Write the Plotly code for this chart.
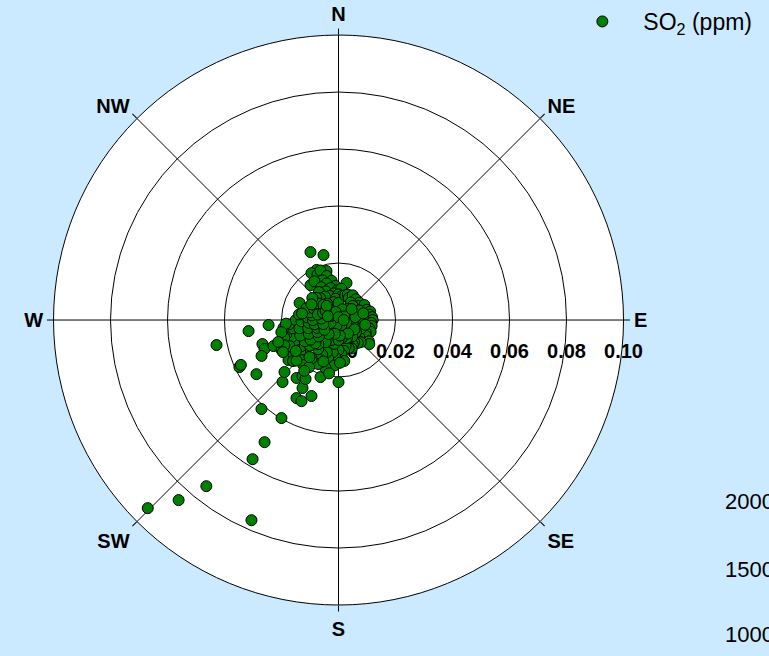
import plotly.graph_objects as go

# Wind direction (degrees, clockwise from North) and SO2 concentration (ppm)
wind_direction_deg = [
    # outlying points
    225.4, 221.6, 218.5, 203.5, 211.7, 211.2, 220.9, 210.2, 258.4, 244.6,
    245.3, 263.0, 265.9, 236.6, 208.3, 204.5, 199.6, 207.9, 180.0, 222.1,
    226.1, 231.3, 215.9, 212.7, 209.2, 197.5, 293.6, 337.6, 347.0, 336.3,
    346.2, 12.2, 321.3, 252.5, 248.6, 245.0, 248.2, 242.2,
    # northern lobe
    330, 335, 340, 345, 338, 328, 350, 342, 332, 355,
    346, 336, 325, 358, 350, 340, 330, 320, 315, 5,
    0, 8, 352, 345, 325, 0, 15, 20, 25,
    # east / core
    30, 40, 50, 55, 60, 70, 75, 80, 85, 90,
    95, 100, 105, 110, 115, 120, 125, 128, 130, 135,
    140, 145, 150, 155, 160, 165, 170, 35, 45, 65,
    85, 95, 110, 125, 140, 155, 170, 40, 70, 100,
    130, 160, 20, 60, 110, 150, 200, 250, 300, 340,
    0, 90, 80, 50, 120, 145, 100, 75,
    # south
    175, 180, 185, 190, 195, 200, 205, 210, 215, 190,
    200, 210, 180, 185, 195, 205, 172, 178, 220, 215,
    200, 190, 175, 195, 215,
    # south-west lobe
    225, 230, 235, 240, 245, 250, 255, 260, 265, 270,
    228, 238, 248, 258, 268, 222, 232, 242, 252, 262,
    225, 235, 245, 255, 265, 275, 230, 240, 250, 260,
    270, 280, 235, 255, 275, 228, 245, 218, 212, 266,
    278, 240, 218, 226, 234, 214, 258, 250,
    # west-north-west
    285, 290, 295, 300, 305, 310, 315, 285, 295, 305,
    310, 300, 320, 290, 280,
]

so2_ppm = [
    # outlying points
    0.0940, 0.0845, 0.0745, 0.0766, 0.0574, 0.0501, 0.0413, 0.0398, 0.0437, 0.0385,
    0.0377, 0.0318, 0.0246, 0.0345, 0.0311, 0.0313, 0.0283, 0.0270, 0.0218, 0.0293,
    0.0263, 0.0225, 0.0251, 0.0234, 0.0237, 0.0210, 0.0149, 0.0258, 0.0234, 0.0192,
    0.0177, 0.0133, 0.0157, 0.0280, 0.0279, 0.0298, 0.0246, 0.0226,
    # northern lobe
    0.019, 0.0175, 0.0185, 0.016, 0.015, 0.016, 0.014, 0.0135, 0.013, 0.012,
    0.0115, 0.011, 0.012, 0.0105, 0.0095, 0.009, 0.0095, 0.010, 0.011, 0.011,
    0.009, 0.0085, 0.0075, 0.0065, 0.007, 0.006, 0.009, 0.0095, 0.0085,
    # east / core
    0.010, 0.0095, 0.0095, 0.0085, 0.0105, 0.0105, 0.0115, 0.011, 0.0118, 0.012,
    0.0115, 0.0118, 0.0112, 0.012, 0.0105, 0.011, 0.013, 0.0137, 0.0095, 0.011,
    0.0105, 0.0095, 0.010, 0.011, 0.0105, 0.0095, 0.011, 0.0075, 0.007, 0.008,
    0.0085, 0.008, 0.0085, 0.0075, 0.0075, 0.007, 0.0065, 0.005, 0.005, 0.005,
    0.0048, 0.0045, 0.004, 0.0025, 0.003, 0.002, 0.002, 0.003, 0.003, 0.003,
    0.001, 0.0018, 0.006, 0.006, 0.0065, 0.0058, 0.0095, 0.009,
    # south
    0.012, 0.0105, 0.013, 0.0115, 0.014, 0.012, 0.0135, 0.015, 0.0125, 0.0085,
    0.0075, 0.009, 0.007, 0.016, 0.0175, 0.017, 0.0145, 0.015, 0.011, 0.0165,
    0.0155, 0.019, 0.0055, 0.005, 0.006,
    # south-west lobe
    0.0165, 0.0175, 0.016, 0.018, 0.0165, 0.0175, 0.019, 0.0165, 0.0175, 0.015,
    0.0135, 0.014, 0.0145, 0.014, 0.013, 0.019, 0.020, 0.0195, 0.020, 0.0195,
    0.0115, 0.012, 0.0115, 0.011, 0.0105, 0.011, 0.009, 0.0085, 0.008, 0.0085,
    0.009, 0.0095, 0.006, 0.0055, 0.006, 0.0215, 0.021, 0.020, 0.0195, 0.0185,
    0.014, 0.0225, 0.0165, 0.0205, 0.0185, 0.0215, 0.0205, 0.0225,
    # west-north-west
    0.0105, 0.012, 0.0095, 0.0085, 0.010, 0.009, 0.0075, 0.0075, 0.006, 0.0055,
    0.012, 0.011, 0.0065, 0.004, 0.013,
]

compass_angles = [0, 45, 90, 135, 180, 225, 270, 315]
compass_labels = ["N", "NE", "E", "SE", "S", "SW", "W", "NW"]
radial_ticks = [0, 0.02, 0.04, 0.06, 0.08, 0.10]
side_labels = ["2000", "1500", "1000"]
side_label_y = [0.2348, 0.1326, 0.0335]

FONT = "Arial, Liberation Sans, sans-serif"
bold = dict(family=FONT, size=20, color="black", weight="bold")

fig = go.Figure()
fig.add_trace(go.Scatterpolar(
    r=so2_ppm, theta=wind_direction_deg, mode="markers",
    name="SO<sub>2</sub> (ppm)",
    marker=dict(size=11, color="#008000", line=dict(color="black", width=1)),
))

fig.update_layout(
    width=769, height=656,
    margin=dict(l=0, r=0, t=0, b=0),
    paper_bgcolor="#CCEAFF",
    showlegend=True,
    legend=dict(x=0.73, y=1.0, xanchor="left", yanchor="top",
                bgcolor="rgba(0,0,0,0)", itemwidth=72,
                font=dict(family=FONT, size=23, color="black")),
    polar=dict(
        domain=dict(x=[0.0696, 0.8108], y=[0.0777, 0.9466]),
        bgcolor="white",
        angularaxis=dict(
            rotation=90, direction="clockwise",
            tickmode="array", tickvals=compass_angles, ticktext=compass_labels,
            ticks="outside", ticklen=6, tickcolor="black",
            showline=True, linecolor="black", linewidth=1,
            showgrid=True, gridcolor="black", gridwidth=1,
            layer="below traces", tickfont=bold,
        ),
        radialaxis=dict(
            range=[0, 0.1], tickmode="array", tickvals=radial_ticks, tickformat=".2f",
            angle=0, side="clockwise", showline=False,
            ticks="outside", ticklen=13, tickcolor="rgba(0,0,0,0)",
            showgrid=True, gridcolor="black", gridwidth=1,
            layer="below traces", tickfont=bold,
        ),
    ),
)

for txt, yy in zip(side_labels, side_label_y):
    fig.add_annotation(text=txt, xref="paper", yref="paper", x=0.9402, y=yy,
                       xanchor="left", yanchor="middle", showarrow=False,
                       font=dict(family=FONT, size=22, color="black"))

fig.write_html("out.html", config={"displayModeBar": False},
               post_script="document.body.style.margin='0px';")
